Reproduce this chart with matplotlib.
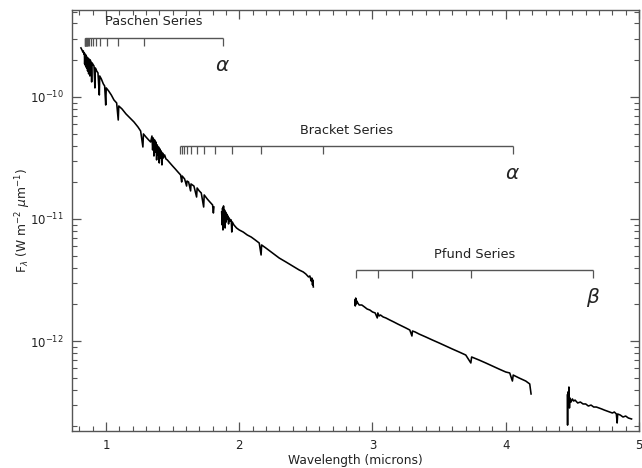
import numpy as np
import matplotlib
matplotlib.use("Agg")
import matplotlib.pyplot as plt
from matplotlib.ticker import FixedLocator, MultipleLocator, NullFormatter, LogFormatterMathtext

# ---------------- data ----------------
# spectrum segments: wavelength (microns) and log10 flux (W m^-2 um^-1)
seg1_wave = [0.812, 0.820, 0.826, 0.830, 0.834, 0.838, 0.840, 0.842, 0.845, 0.847,
             0.849, 0.852, 0.854, 0.856, 0.860, 0.862, 0.864, 0.868, 0.870, 0.872,
             0.877, 0.879, 0.881, 0.888, 0.8925, 0.896, 0.905, 0.910, 0.917, 0.920,
             0.930, 0.940, 0.950, 0.953, 0.965, 0.980, 0.990, 0.998, 1.002, 1.020,
             1.040, 1.060, 1.080, 1.092, 1.096, 1.120, 1.150, 1.180, 1.210, 1.240,
             1.260, 1.277, 1.281, 1.300, 1.320, 1.335, 1.345, 1.350, 1.355, 1.360,
             1.365, 1.370, 1.375, 1.380, 1.385, 1.390, 1.395, 1.400, 1.405, 1.410,
             1.415, 1.420, 1.425, 1.430, 1.440, 1.450, 1.460, 1.480, 1.500, 1.520,
             1.540, 1.560, 1.568, 1.572, 1.590, 1.605, 1.608, 1.620, 1.635, 1.638,
             1.660, 1.680, 1.684, 1.700, 1.715, 1.733, 1.737, 1.760, 1.780, 1.800,
             1.806, 1.810]
seg1_logf = [-9.598, -9.615, -9.631, -9.623, -9.648, -9.639, -9.730, -9.648, -9.656, -9.746,
             -9.656, -9.664, -9.762, -9.672, -9.680, -9.787, -9.680, -9.689, -9.811, -9.689,
             -9.697, -9.828, -9.697, -9.713, -9.877, -9.721, -9.738, -9.746, -9.926, -9.762,
             -9.787, -9.803, -9.984, -9.828, -9.852, -9.893, -9.910, -10.066, -9.926, -9.951,
             -9.984, -10.025, -10.049, -10.189, -10.074, -10.098, -10.139, -10.172, -10.205, -10.246,
             -10.279, -10.410, -10.303, -10.328, -10.352, -10.369, -10.320, -10.434, -10.336, -10.484,
             -10.352, -10.451, -10.369, -10.516, -10.393, -10.475, -10.410, -10.541, -10.426, -10.500,
             -10.443, -10.557, -10.459, -10.500, -10.475, -10.508, -10.516, -10.541, -10.566, -10.590,
             -10.615, -10.639, -10.697, -10.648, -10.672, -10.730, -10.689, -10.697, -10.770, -10.713,
             -10.730, -10.820, -10.746, -10.770, -10.787, -10.902, -10.803, -10.836, -10.861, -10.885,
             -10.951, -10.902]

seg2_wave = [1.868, 1.872, 1.875, 1.878, 1.882, 1.886, 1.890, 1.894, 1.898, 1.902,
             1.906, 1.910, 1.915, 1.920, 1.925, 1.932, 1.940, 1.944, 1.948, 1.960,
             1.980, 2.000, 2.030, 2.060, 2.090, 2.120, 2.150, 2.164, 2.168, 2.200,
             2.250, 2.300, 2.350, 2.400, 2.450, 2.480, 2.500, 2.520, 2.530, 2.540,
             2.545, 2.550, 2.553, 2.556]
seg2_logf = [-10.943, -11.049, -10.910, -11.090, -10.893, -10.992, -10.926, -11.074, -10.943, -11.025,
             -10.959, -11.000, -10.975, -11.041, -10.992, -11.016, -11.008, -11.107, -11.025, -11.049,
             -11.074, -11.090, -11.107, -11.131, -11.148, -11.172, -11.197, -11.295, -11.213, -11.238,
             -11.279, -11.320, -11.352, -11.385, -11.418, -11.434, -11.451, -11.475, -11.467, -11.508,
             -11.484, -11.541, -11.500, -11.557]

seg3_wave = [2.868, 2.871, 2.874, 2.878, 2.882, 2.890, 2.900, 2.920, 2.940, 2.960,
             2.980, 3.000, 3.020, 3.036, 3.040, 3.050, 3.060, 3.080, 3.100, 3.130,
             3.160, 3.190, 3.220, 3.250, 3.280, 3.296, 3.300, 3.320, 3.350, 3.400,
             3.450, 3.500, 3.550, 3.600, 3.650, 3.700, 3.738, 3.744, 3.800, 3.850,
             3.900, 3.950, 4.000, 4.030, 4.050, 4.056, 4.100, 4.150, 4.180, 4.190]
seg3_logf = [-11.664, -11.713, -11.648, -11.697, -11.672, -11.689, -11.705, -11.705, -11.721, -11.738,
             -11.746, -11.762, -11.770, -11.811, -11.770, -11.795, -11.787, -11.803, -11.811, -11.828,
             -11.844, -11.861, -11.877, -11.893, -11.910, -11.959, -11.918, -11.926, -11.943, -11.967,
             -11.992, -12.016, -12.041, -12.066, -12.090, -12.115, -12.180, -12.131, -12.156, -12.180,
             -12.205, -12.230, -12.254, -12.262, -12.328, -12.279, -12.303, -12.328, -12.352, -12.434]

seg4_wave = [4.462, 4.464, 4.466, 4.470, 4.474, 4.478, 4.482, 4.490, 4.500, 4.510,
             4.520, 4.540, 4.560, 4.580, 4.600, 4.620, 4.640, 4.660, 4.680, 4.700,
             4.720, 4.740, 4.760, 4.780, 4.800, 4.815, 4.830, 4.836, 4.840, 4.860,
             4.880, 4.900, 4.920, 4.944]
seg4_logf = [-12.443, -12.689, -12.418, -12.516, -12.377, -12.549, -12.467, -12.500, -12.475, -12.492,
             -12.484, -12.508, -12.500, -12.516, -12.516, -12.533, -12.525, -12.541, -12.541, -12.549,
             -12.557, -12.566, -12.574, -12.582, -12.590, -12.582, -12.598, -12.672, -12.598, -12.607,
             -12.623, -12.615, -12.631, -12.639]

# hydrogen series line wavelengths (microns)
paschen_lines = [0.8392, 0.8413, 0.8438, 0.8467, 0.8502, 0.8545, 0.8598, 0.8665, 0.8750,
                 0.8863, 0.9015, 0.9229, 0.9546, 1.0049, 1.0938, 1.2818, 1.8751]
brackett_lines = [1.5561, 1.5705, 1.5885, 1.6114, 1.6412, 1.6811, 1.7367, 1.8179,
                  1.9451, 2.1661, 2.6259, 4.0523]
pfund_lines = [2.8730, 3.0392, 3.2970, 3.7406, 4.6538]

series_names = ["Paschen Series", "Bracket Series", "Pfund Series"]
series_marks = [r"$\alpha$", r"$\alpha$", r"$\beta$"]
series_levels = [3.05e-10, 3.96e-11, 3.82e-12]   # flux level of each bracket line

x_major = [1, 2, 3, 4, 5]
y_major = [1e-12, 1e-11, 1e-10]
xlim = (0.745, 5.0)
ylim = (1.83e-13, 5.16e-10)

# ---------------- plot ----------------
plt.rcParams['font.family'] = ['DejaVu Sans']
plt.rcParams['mathtext.fontset'] = 'dejavusans'

fig = plt.figure(figsize=(6.42, 4.68), dpi=100)
ax = fig.add_axes([72/642, 1 - 431/468, (639-72)/642, (431-10)/468])

for w, lf in [(seg1_wave, seg1_logf), (seg2_wave, seg2_logf),
              (seg3_wave, seg3_logf), (seg4_wave, seg4_logf)]:
    ax.plot(w, 10 ** np.array(lf), color='black', lw=1.15)

ax.set_yscale('log')
ax.set_xlim(*xlim)
ax.set_ylim(*ylim)

gray = '#555555'
txt = '#222222'
drop = 1.165   # tick drop factor for bracket ticks
for lines, name, mark, lev in zip([paschen_lines, brackett_lines, pfund_lines],
                                  series_names, series_marks, series_levels):
    ax.hlines(lev, lines[0], lines[-1], color=gray, lw=1.0)
    ax.vlines(lines, lev / drop, lev, color=gray, lw=0.9)
    mid = 0.5 * (lines[0] + lines[-1])
    ax.annotate(name, (mid, lev), xytext=(0, 11.5), textcoords='offset points',
                ha='center', va='center', fontsize=9.3, color=txt)
    ax.annotate(mark, (lines[-1], lev), xytext=(0, -20), textcoords='offset points',
                ha='center', va='center', fontsize=14.5, color=txt)

ax.xaxis.set_major_locator(FixedLocator(x_major))
ax.xaxis.set_minor_locator(MultipleLocator(0.1))
ax.yaxis.set_major_locator(FixedLocator(y_major))
ax.yaxis.set_major_formatter(LogFormatterMathtext())
y_minor = [m * d for d in [1e-13, 1e-12, 1e-11, 1e-10] for m in range(2, 10)]
ax.yaxis.set_minor_locator(FixedLocator(y_minor))
ax.yaxis.set_minor_formatter(NullFormatter())

ax.tick_params(which='both', direction='in', top=True, right=True, colors=gray,
               labelcolor=txt, labelsize=8.5)
ax.tick_params(which='major', length=6.5, width=0.9, pad=6)
ax.tick_params(which='minor', length=3.6, width=0.8)
for s in ax.spines.values():
    s.set_color(gray)
    s.set_linewidth(1.0)

ax.set_xlabel('Wavelength (microns)', fontsize=8.8, color=txt, labelpad=1)
ax.set_ylabel(r'F$_\lambda$ (W m$^{-2}$ $\mu$m$^{-1}$)', fontsize=8.8, color=txt,
              labelpad=-2)

fig.savefig('out.png', dpi=100)
